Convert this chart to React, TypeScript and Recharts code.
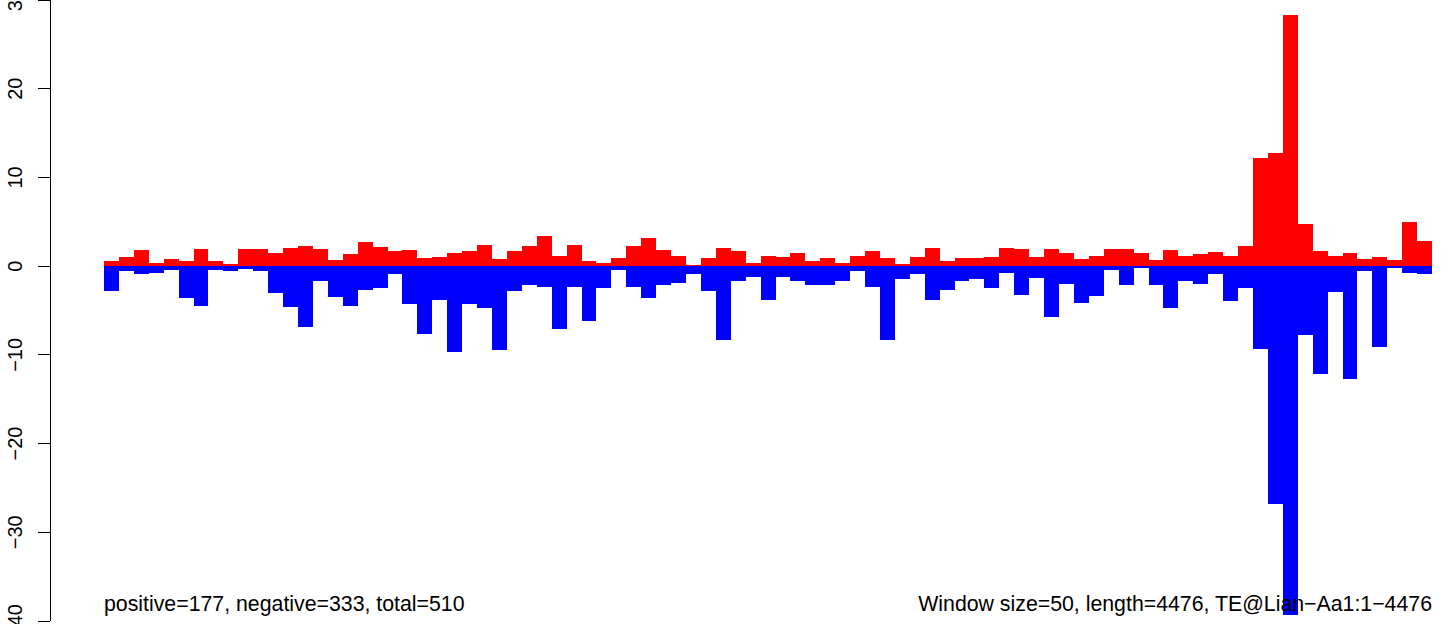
import { BarChart, Bar, XAxis, YAxis } from 'recharts'

// per-window counts (89 windows of 50 bp)
const positive = [
  0.56, 0.98, 1.77, 0.41, 0.75, 0.53, 1.88, 0.53, 0.19, 1.88,
  1.88, 1.43, 2.0, 2.22, 1.88, 0.64, 1.32, 2.67, 2.11, 1.66,
  1.77, 0.87, 0.98, 1.43, 1.66, 2.34, 0.75, 1.66, 2.22, 3.35,
  1.09, 2.34, 0.53, 0.41, 0.87, 2.22, 3.13, 1.77, 1.09, 0.08,
  0.87, 2.0, 1.66, 0.3, 1.09, 0.98, 1.43, 0.53, 0.87, 0.3,
  1.09, 1.66, 0.87, 0.19, 0.98, 2.0, 0.53, 0.87, 0.87, 0.98,
  2.0, 1.88, 0.98, 1.88, 1.43, 0.75, 1.09, 1.88, 1.88, 1.43,
  0.64, 1.77, 1.09, 1.32, 1.54, 1.09, 2.22, 12.2, 12.8, 28.3,
  4.8, 1.66, 1.09, 1.43, 0.75, 0.98, 0.64, 5.0, 2.85,
]

const negative = [
  -2.75, -0.56, -0.94, -0.72, -0.49, -3.62, -4.44, -0.38, -0.6, -0.3,
  -0.6, -2.98, -4.56, -6.82, -1.73, -3.43, -4.44, -2.64, -2.41, -0.83,
  -4.22, -7.61, -3.77, -9.7, -4.22, -4.67, -9.42, -2.75, -2.18, -2.3,
  -7.04, -2.3, -6.14, -2.41, -0.38, -2.3, -3.54, -2.18, -1.85, -0.83,
  -2.75, -8.29, -1.73, -1.17, -3.77, -1.17, -1.73, -2.07, -2.18, -1.73,
  -0.6, -2.3, -8.29, -1.5, -0.94, -3.77, -2.64, -1.62, -1.5, -2.41,
  -0.72, -3.2, -1.39, -5.73, -1.96, -4.1, -3.31, -0.38, -2.07, -0.26,
  -2.07, -4.67, -1.73, -1.96, -0.83, -3.88, -2.41, -9.35, -26.8, -39.3,
  -7.8, -12.2, -2.86, -12.7, -0.6, -9.1, -0.26, -0.72, -0.94,
]

const yTicks = [-40, -30, -20, -10, 0, 10, 20, 30]

const leftNote = 'positive=177, negative=333, total=510'
const rightNote = 'Window size=50, length=4476, TE@Lian\u2212Aa1:1\u22124476'

const W = 1449
const H = 624
const FONT = '"Liberation Sans", Arial, Helvetica, sans-serif'
const AXIS_W = 50
const RIGHT = 17
const PAD_LEFT = 54

const data = positive.map((p, i) => ({ win: i + 1, pos: p, neg: negative[i] }))

function RotatedTick(props: any) {
  const { x, y, payload } = props
  const v = payload.value
  const label = v < 0 ? `\u2212${-v}` : `${v}`
  return (
    <text
      x={x}
      y={y}
      transform={`rotate(-90, ${x}, ${y})`}
      textAnchor="middle"
      fontSize={20}
      fontFamily={FONT}
      fill="#000"
    >
      {label}
    </text>
  )
}

// recharts floors the bar width, so widen each bar back to the full band
function makeBandBar(band: number) {
  return function BandBar(props: any) {
    const { x, y, width, height, fill } = props
    if (!height) return null
    const cx = x + width / 2
    const top = height < 0 ? y + height : y
    return <rect x={cx - band / 2} y={top} width={band} height={Math.abs(height)} fill={fill} />
  }
}

export default function App() {
  const band = (W - RIGHT - AXIS_W - PAD_LEFT) / data.length
  const BandBar = makeBandBar(band)

  return (
    <div style={{ position: 'absolute', left: 0, top: 0, width: W, height: H, background: '#fff', shapeRendering: 'crispEdges' }}>
      <BarChart
        width={W}
        height={H}
        data={data}
        margin={{ top: 0, right: RIGHT, bottom: 3, left: 0 }}
        stackOffset="sign"
        barCategoryGap={0}
        barGap={0}
      >
        <XAxis dataKey="win" hide padding={{ left: PAD_LEFT, right: 0 }} />
        <YAxis
          type="number"
          width={AXIS_W}
          domain={[-40, 30]}
          ticks={yTicks}
          interval={0}
          allowDataOverflow
          tickSize={12}
          tickMargin={16}
          axisLine={{ stroke: '#000', strokeWidth: 1 }}
          tickLine={{ stroke: '#000', strokeWidth: 1 }}
          tick={<RotatedTick />}
        />
        <Bar dataKey="pos" stackId="s" fill="#ff0000" shape={BandBar} isAnimationActive={false} />
        <Bar dataKey="neg" stackId="s" fill="#0000ff" shape={BandBar} isAnimationActive={false} />
      </BarChart>
      <svg width={W} height={H} style={{ position: 'absolute', left: 0, top: 0, pointerEvents: 'none' }}>
        <text x={104} y={611} fontSize={21.3} fontFamily={FONT} fill="#000">
          {leftNote}
        </text>
        <text x={1432} y={611} fontSize={21.3} fontFamily={FONT} fill="#000" textAnchor="end">
          {rightNote}
        </text>
      </svg>
    </div>
  )
}
